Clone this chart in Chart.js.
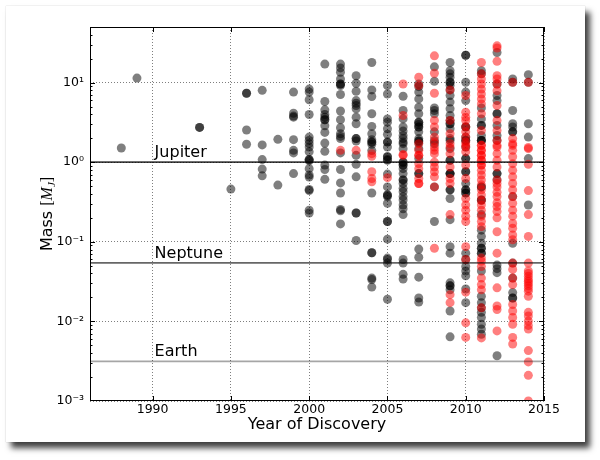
<!DOCTYPE html>
<html><head><meta charset="utf-8">
<script src="https://cdn.jsdelivr.net/npm/chart.js@4"></script>
<style>
html,body{margin:0;padding:0;background:#fff;}
#wrap{position:relative;width:600px;height:460px;overflow:hidden;background:#fff;}
#card{position:absolute;left:6px;top:6px;width:579px;height:436px;background:#fff;
  box-shadow:5px 6px 6px rgba(0,0,0,0.75), 0 0 1px rgba(0,0,0,0.25);}
canvas{position:absolute;left:0;top:0;}
</style></head><body>
<div id="wrap"><div id="card"></div><canvas id="c" width="600" height="460"></canvas></div>
<script>
const years = [1988,1989,1993,1995,1996,1997,1998,1999,2000,2001,2002,2003,2004,2005,2006,2007,2008,2009,2010,2011,2012,2013,2014];
const grayMass = [
  [1.51],
  [11.4],
  [2.74,2.74],
  [0.46],
  [7.35,7.35,2.54,1.68],
  [8.0,1.65,1.08,0.82,0.675],
  [1.94,0.516],
  [7.6,4.13,3.8,3.68,1.92,1.41,1.31,0.72],
  [8.3,7.6,6.1,3.98,2.07,1.88,1.71,1.55,1.35,1.08,1.08,1.04,0.83,0.69,0.65,0.455,0.44,0.25,0.23],
  [17.1,5.8,4.55,3.98,3.68,3.42,3.42,2.87,2.37,1.74,1.37,0.92,0.81,0.61],
  [17.1,15.3,13.5,11.1,9.6,9.6,9.2,7.1,4.4,3.42,2.71,2.28,2.11,1.98,1.31,0.81,0.55,0.41,0.255,0.245,0.168],
  [12.2,9.8,7.8,5.95,5.5,5.16,4.7,3.68,3.04,1.98,1.98,1.85,1.22,0.94,0.655,0.23,0.23,0.104],
  [17.9,8.1,6.7,4.06,2.82,2.28,1.92,1.79,1.79,1.68,1.4,0.41,0.073,0.073,0.035,0.0335,0.027],
  [9.2,7.2,3.5,3.19,2.63,2.24,1.79,1.79,1.55,1.17,1.17,1.08,1.06,0.71,0.49,0.387,0.387,0.37,0.305,0.18,0.18,0.108,0.0625,0.06,0.054,0.019],
  [6.75,4.47,3.5,2.77,2.46,2.17,1.98,1.79,1.71,1.48,1.0,1.0,0.92,0.92,0.83,0.72,0.6,0.6,0.54,0.47,0.425,0.37,0.335,0.29,0.26,0.22,0.06,0.054,0.039,0.034],
  [9.6,8.9,7.6,6.25,4.9,4.06,3.19,3.19,2.98,2.77,2.77,2.41,1.98,1.85,1.85,1.75,1.48,1.11,0.72,0.72,0.081,0.064,0.036,0.0197,0.0175],
  [15.8,10.4,4.8,4.47,4.06,2.41,1.88,1.7,0.49,0.18],
  [17.9,14.1,12.9,11.7,10.1,10.1,9.2,8.1,6.9,5.7,4.7,3.86,3.35,3.04,3.04,2.63,1.98,1.88,1.48,1.06,1.06,0.72,0.72,0.72,0.45,0.45,0.35,0.19,0.087,0.072,0.0305,0.028,0.028,0.025,0.0135,0.0064],
  [22.1,22.1,10.1,7.6,5.95,2.77,2.77,2.07,1.88,1.88,1.55,1.11,1.11,0.76,0.76,0.54,0.45,0.45,0.41,0.41,0.072,0.06,0.049,0.043,0.0375,0.0255,0.0172],
  [14.1,12.9,4.8,3.5,2.9,2.9,2.17,1.88,1.88,1.88,0.49,0.49,0.335,0.335,0.22,0.14,0.117,0.096,0.083,0.083,0.072,0.072,0.043,0.0207,0.0172,0.0148,0.013,0.0112,0.0092,0.008,0.0069],
  [23.9,9.6,6.9,5.95,4.06,4.06,2.9,2.17,1.88,0.72,0.72,0.6,0.051,0.046,0.041,0.0037],
  [11.1,10.1,4.47,3.04,2.77,2.41,2.41,0.37,0.096,0.054,0.035,0.023,0.0197,0.0197],
  [12.6,10.1,3.04,2.07,1.11,0.29]
];
const redMass = [
  [],[],[],[],[],[],[],[],[],[],
  [1.41],
  [1.41],
  [1.28,1.19,0.76,0.625,0.567],
  [0.64],
  [9.6,3.86,1.25,1.22],
  [11.7,9.2,1.71,1.41,1.22,1.22,0.96,0.83,0.625,0.54,0.54],
  [21.7,13.1,7.35,3.35,2.77,2.07,1.79,1.55,1.41,1.28,1.0,0.87,0.76,0.655,0.49,0.083],
  [8.1,3.35,2.28,1.71,1.55,1.28,0.87,0.625,0.54,0.22,0.0217,0.0172],
  [6.9,4.25,3.68,3.35,2.8,2.41,2.07,1.79,1.65,1.55,1.35,0.92,0.625,0.35,0.29,0.25,0.21,0.18,0.087,0.06,0.0233,0.0096,0.0063],
  [17.9,12.9,11.1,9.6,8.3,7.2,6.25,5.4,4.06,2.5,1.63,1.63,1.41,1.41,1.22,1.22,1.06,1.06,0.92,0.92,0.79,0.69,0.6,0.52,0.45,0.387,0.33,0.29,0.25,0.21,0.18,0.155,0.0625,0.057,0.049,0.035,0.029,0.025,0.0148,0.0062],
  [29,27.2,18.5,12.2,11.1,9.6,7.9,5.16,3.35,2.5,1.88,1.63,1.55,1.28,1.06,0.87,0.6,0.54,0.49,0.42,0.37,0.31,0.277,0.24,0.2,0.134,0.072,0.0264,0.0156,0.0141,0.0076],
  [10.1,1.98,1.71,1.63,1.41,1.17,0.96,0.79,0.655,0.54,0.45,0.37,0.305,0.25,0.21,0.17,0.148,0.122,0.106,0.054,0.045,0.035,0.029,0.0163,0.0135,0.0112,0.0092,0.0063,0.0052],
  [10.1,1.53,1.48,0.94,0.44,0.22,0.117,0.054,0.043,0.04,0.037,0.034,0.032,0.03,0.028,0.026,0.024,0.0207,0.013,0.0117,0.0101,0.0089,0.008,0.0043,0.0031,0.0021,0.001]
];
const refNames = ['Jupiter','Neptune','Earth'];
const refMass = [1.0, 0.0543, 0.00315];
const xRange = [1986, 2015];
const yRange = [0.001, 50];
const xTicks = [1990,1995,2000,2005,2010,2015];
const yMajor = [0.001,0.01,0.1,1,10];
const yLabels = ['10\u207B\u00B3','10\u207B\u00B2','10\u207B\u00B9','10\u2070','10\u00B9'];

function toPoints(arr){
  const out=[];
  years.forEach((yr,i)=>arr[i].forEach(m=>out.push({x:yr,y:m})));
  return out;
}
function majorIndex(v){ return yMajor.findIndex(m=>Math.abs(m-v)/m<1e-6); }

const refColors = ['rgba(0,0,0,0.75)','rgba(0,0,0,0.6)','rgba(0,0,0,0.35)'];
const datasets = [
  {label:'gray', data:toPoints(grayMass), backgroundColor:'rgba(0,0,0,0.5)', pointBackgroundColor:'rgba(0,0,0,0.5)',
   borderWidth:0, pointBorderWidth:0, pointBorderColor:'rgba(0,0,0,0)', pointRadius:4.5, order:3},
  {label:'red', data:toPoints(redMass), backgroundColor:'rgba(255,0,0,0.5)', pointBackgroundColor:'rgba(255,0,0,0.5)',
   borderWidth:0, pointBorderWidth:0, pointBorderColor:'rgba(0,0,0,0)', pointRadius:4.5, order:2}
];
refMass.forEach((m,i)=>datasets.push({
  type:'line', label:refNames[i], data:[{x:xRange[0],y:m},{x:xRange[1],y:m}],
  borderColor:refColors[i], borderWidth:1.7, pointRadius:0, showLine:true, fill:false, order:1
}));

Chart.defaults.font.family = '"DejaVu Sans", sans-serif';
Chart.defaults.color = '#000';

const decor = {
  id:'decor',
  afterDraw(chart){
    const {ctx, chartArea:a, scales:{x,y}} = chart;
    ctx.save();
    ctx.strokeStyle='#000'; ctx.lineWidth=1;
    ctx.strokeRect(a.left+0.5, a.top+0.5, a.right-a.left-1, a.bottom-a.top-1);
    y.ticks.forEach(t=>{
      const py = Math.round(y.getPixelForValue(t.value))+0.5;
      if (py < a.top || py > a.bottom) return;
      const len = majorIndex(t.value)>=0 ? 5 : 2.5;
      ctx.beginPath();
      ctx.moveTo(a.left, py); ctx.lineTo(a.left+len, py);
      ctx.moveTo(a.right, py); ctx.lineTo(a.right-len, py);
      ctx.stroke();
    });
    x.ticks.forEach(t=>{
      const px = Math.round(x.getPixelForValue(t.value))+0.5;
      ctx.beginPath();
      ctx.moveTo(px, a.bottom); ctx.lineTo(px, a.bottom-5);
      ctx.moveTo(px, a.top); ctx.lineTo(px, a.top+5);
      ctx.stroke();
    });
    ctx.fillStyle='#000';
    ctx.font='16px "DejaVu Sans"';
    ctx.textAlign='left'; ctx.textBaseline='alphabetic';
    refNames.forEach((n,i)=>{
      ctx.fillText(n, x.getPixelForValue(1990)+2, y.getPixelForValue(refMass[i])-5);
    });
    const parts = [
      {t:'Mass ', f:'16px "DejaVu Sans"', dy:0},
      {t:'[', f:'16px "Liberation Serif"', dy:0},
      {t:'M', f:'italic 16px "Liberation Serif"', dy:0},
      {t:'J', f:'italic 11px "Liberation Serif"', dy:3},
      {t:']', f:'16px "Liberation Serif"', dy:0}
    ];
    let total=0;
    parts.forEach(p=>{ctx.font=p.f; p.w=ctx.measureText(p.t).width; total+=p.w;});
    ctx.translate(52, (a.top+a.bottom)/2);
    ctx.rotate(-Math.PI/2);
    let cx=-total/2;
    parts.forEach(p=>{ctx.font=p.f; ctx.fillText(p.t, cx, p.dy); cx+=p.w;});
    ctx.restore();
  }
};

new Chart(document.getElementById('c'), {
  type:'scatter',
  data:{datasets},
  options:{
    responsive:false, animation:false, devicePixelRatio:1,
    layout:{padding:{left:0,right:56,top:27,bottom:0}},
    plugins:{legend:{display:false}, tooltip:{enabled:false}},
    scales:{
      x:{
        type:'linear', min:xRange[0], max:xRange[1],
        afterBuildTicks:(s)=>{ s.ticks = xTicks.map(v=>({value:v})); },
        afterFit:(s)=>{ s.height = 59; },
        ticks:{autoSkip:false, maxRotation:0, padding:1, font:{size:12.5}, color:'#000', callback:(v)=>String(v)},
        grid:{drawTicks:false, color:'rgba(0,0,0,0.5)', lineWidth:1},
        border:{display:false, dash:[1,2]},
        title:{display:true, text:'Year of Discovery', font:{size:16}, color:'#000', padding:{top:0,bottom:26}}
      },
      y:{
        type:'logarithmic', min:yRange[0], max:yRange[1],
        afterBuildTicks:(s)=>{
          const t=[];
          for(let e=-3;e<=1;e++){ for(let k=1;k<=9;k++){ const v=+(k*Math.pow(10,e)).toPrecision(3); if(v<=yRange[1]) t.push({value:v}); } }
          s.ticks=t;
        },
        afterFit:(s)=>{ s.width = 90; },
        ticks:{autoSkip:false, padding:6, font:{size:12.5}, color:'#000',
          callback:(v)=>{ const i=majorIndex(v); return i>=0 ? yLabels[i] : ''; }},
        grid:{drawTicks:false, lineWidth:1,
          color:(c)=> (c.tick && majorIndex(c.tick.value)>=0) ? 'rgba(0,0,0,0.5)' : 'rgba(0,0,0,0)'},
        border:{display:false, dash:[1,2]}
      }
    }
  },
  plugins:[decor]
});
</script>
</body></html>
